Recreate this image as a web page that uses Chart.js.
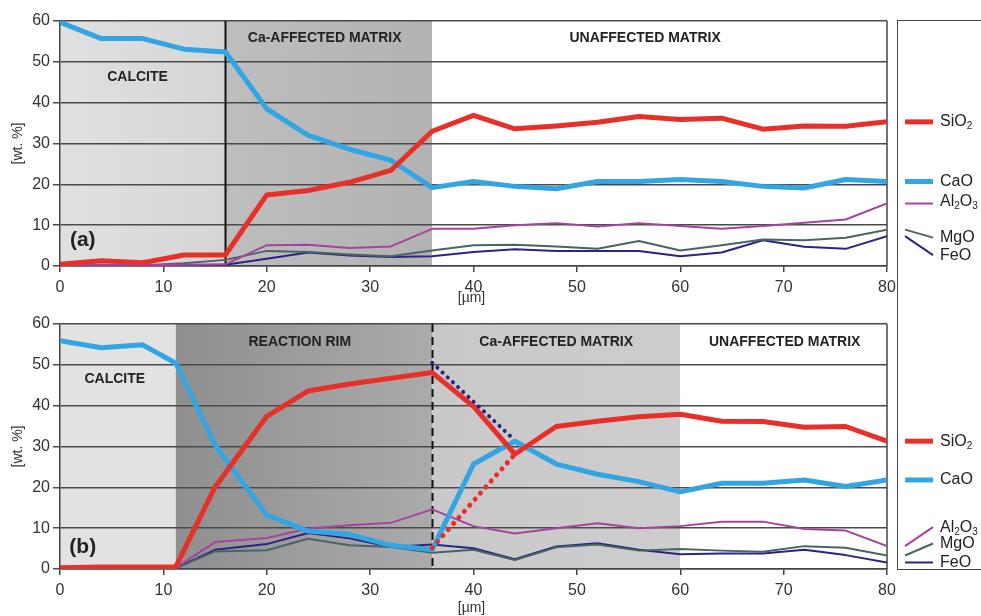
<!DOCTYPE html>
<html>
<head>
<meta charset="utf-8">
<script src="https://cdn.jsdelivr.net/npm/chart.js@4/dist/chart.umd.min.js"></script>
<style>
  html, body { margin: 0; padding: 0; background: #fff; }
  #fig { position: relative; width: 981px; height: 616px; overflow: hidden; background: #fff; }
  #fig canvas { position: absolute; left: 0; }
  #cTop { top: 0; }
  #cBot { top: 305px; }
  #keyBox { position: absolute; left: 897px; top: 20px; width: 120px; height: 550px;
            border: 1.5px solid #444; box-sizing: border-box; }
</style>
</head>
<body>
<div id="fig">
  <div id="keyBox"></div>
  <canvas id="cTop" width="981" height="305"></canvas>
  <canvas id="cBot" width="981" height="311"></canvas>
</div>
<script>
// ---- Profile (a): distance from calcite [µm] and oxide contents [wt. %]
const depthA   = [0, 4, 8, 12, 16, 20, 24, 28, 32, 36, 40, 44, 48, 52, 56, 60, 64, 68, 72, 76, 80];
const sio2A    = [0.4, 1.3, 0.8, 2.7, 2.7, 17.4, 18.5, 20.5, 23.4, 33.0, 36.9, 33.6, 34.3, 35.2, 36.6, 35.9, 36.2, 33.5, 34.3, 34.2, 35.3];
const caoA     = [59.7, 55.7, 55.7, 53.1, 52.4, 38.5, 32.0, 28.6, 25.9, 19.2, 20.7, 19.5, 18.9, 20.7, 20.7, 21.2, 20.7, 19.5, 19.1, 21.2, 20.7];
const al2o3A   = [0.2, 0.2, 0.2, 0.3, 0.4, 5.1, 5.2, 4.4, 4.8, 9.1, 9.1, 10.0, 10.5, 9.7, 10.5, 9.8, 9.1, 9.8, 10.6, 11.4, 15.3];
const mgoA     = [0.2, 0.3, 0.2, 0.7, 1.5, 3.7, 3.4, 2.8, 2.4, 3.8, 5.1, 5.2, 4.8, 4.2, 6.1, 3.8, 5.1, 6.5, 6.3, 6.9, 8.9];
const feoA     = [0.1, 0.1, 0.1, 0.2, 0.3, 1.8, 3.3, 2.6, 2.2, 2.4, 3.4, 4.1, 3.7, 3.7, 3.7, 2.4, 3.3, 6.3, 4.7, 4.2, 7.3];

// ---- Profile (b)
const depthB   = [0, 4, 8, 11.2, 15, 20, 24, 28, 32, 36, 40, 44, 48, 52, 56, 60, 64, 68, 72, 76, 80];
const sio2B    = [0.3, 0.5, 0.5, 0.5, 20.1, 37.4, 43.6, 45.3, 46.7, 48.1, 39.8, 28.1, 34.9, 36.2, 37.3, 37.9, 36.2, 36.1, 34.7, 34.9, 31.3];
const caoB     = [55.9, 54.2, 54.9, 50.4, 30.3, 13.2, 9.3, 8.5, 5.8, 4.7, 25.7, 31.3, 25.7, 23.2, 21.4, 18.9, 21.0, 21.0, 21.8, 20.2, 21.8];
const al2o3B   = [0.2, 0.2, 0.3, 0.3, 6.6, 7.6, 9.9, 10.7, 11.3, 14.6, 10.5, 8.7, 10.0, 11.2, 10.0, 10.5, 11.6, 11.6, 9.8, 9.4, 5.6];
const mgoB     = [0.1, 0.2, 0.2, 0.2, 4.3, 4.6, 7.4, 5.8, 5.4, 4.0, 4.7, 2.2, 5.3, 6.0, 4.5, 4.9, 4.5, 4.2, 5.6, 5.2, 3.3];
const feoB     = [0.1, 0.2, 0.2, 0.2, 4.7, 6.1, 8.8, 7.5, 5.4, 6.0, 5.1, 2.4, 5.5, 6.3, 4.7, 3.6, 3.8, 3.8, 4.7, 3.4, 1.6];

// dotted guide lines across the rim / matrix contact in (b)
const guideDepth  = [36, 44];
const guideSiO2   = [5.2, 28.1];
const guideUpper  = [50.5, 31.5];

// zone boundaries [µm] and names
const zoneEdgesA = [0, 16, 36, 80];
const zoneNamesA = ['CALCITE', 'Ca-AFFECTED MATRIX', 'UNAFFECTED MATRIX'];
const zoneEdgesB = [0, 11.2, 36, 60, 80];
const zoneNamesB = ['CALCITE', 'REACTION RIM', 'Ca-AFFECTED MATRIX', 'UNAFFECTED MATRIX'];

const oxideNames = ['SiO₂', 'CaO', 'Al₂O₃', 'MgO', 'FeO'];
const yTicks = [0, 10, 20, 30, 40, 50, 60];
const xTicks = [0, 10, 20, 30, 40, 50, 60, 70, 80];

const FONT = '"Liberation Sans", Arial, Helvetica, sans-serif';
const COL = {
  sio2: '#e8302a', cao: '#33a5e3', al2o3: '#a5449d', mgo: '#4a6464', feo: '#2c2483'
};

const pts = (xs, ys) => xs.map((x, i) => ({ x, y: ys[i] }));

function line(label, xs, ys, color, width, dash) {
  return {
    label, data: pts(xs, ys), borderColor: color, backgroundColor: color,
    borderWidth: width, pointRadius: 0, tension: 0, fill: false,
    borderCapStyle: dash ? 'round' : 'butt', borderJoinStyle: 'round',
    borderDash: dash || []
  };
}

// text with subscript digits drawn smaller and lowered
const SUB = '₀₁₂₃₄₅₆₇₈₉';
function drawFormula(ctx, text, x, y, size) {
  let cx = x;
  for (const ch of text) {
    const si = SUB.indexOf(ch);
    if (si >= 0) {
      ctx.font = `${Math.round(size * 0.62)}px ${FONT}`;
      ctx.fillText(String(si), cx, y + size * 0.3);
      cx += ctx.measureText(String(si)).width;
    } else {
      ctx.font = `${size}px ${FONT}`;
      ctx.fillText(ch, cx, y);
      cx += ctx.measureText(ch).width;
    }
  }
}

function decor(cfg) {
  return {
    id: 'panelDecor',
    beforeDraw(chart) {
      const { ctx, chartArea: a, scales: { x } } = chart;
      ctx.save();
      for (let i = 0; i < cfg.edges.length - 1; i++) {
        const x0 = x.getPixelForValue(cfg.edges[i]);
        const x1 = x.getPixelForValue(cfg.edges[i + 1]);
        const c = cfg.fills[i];
        let fill = c;
        if (Array.isArray(c)) {
          fill = ctx.createLinearGradient(x0, 0, x1, 0);
          fill.addColorStop(0, c[0]);
          fill.addColorStop(1, c[1]);
        }
        ctx.fillStyle = fill;
        ctx.fillRect(x0, a.top, x1 - x0, a.bottom - a.top);
      }
      ctx.restore();
    },
    beforeDatasetsDraw(chart) {
      const { ctx, chartArea: a, scales: { x, y } } = chart;
      ctx.save();
      // frame on the right
      ctx.strokeStyle = '#444';
      ctx.lineWidth = 1.5;
      ctx.beginPath();
      ctx.moveTo(a.right, a.top); ctx.lineTo(a.right, a.bottom);
      ctx.stroke();
      // contact line
      const bx = Math.round(x.getPixelForValue(cfg.contact.at)) + 0.5;
      ctx.strokeStyle = '#111';
      ctx.lineWidth = 2;
      ctx.setLineDash(cfg.contact.dash);
      ctx.beginPath();
      ctx.moveTo(bx, a.top); ctx.lineTo(bx, a.bottom);
      ctx.stroke();
      ctx.setLineDash([]);
      // zone names
      ctx.fillStyle = '#222';
      ctx.textAlign = 'center';
      ctx.textBaseline = 'middle';
      ctx.font = `bold 14px ${FONT}`;
      cfg.names.forEach((n, i) => {
        const p = cfg.namePos[i];
        ctx.fillText(n, x.getPixelForValue(p[0]), y.getPixelForValue(p[1]));
      });
      // panel tag
      ctx.font = `bold 21px ${FONT}`;
      ctx.fillText(cfg.tag, x.getPixelForValue(cfg.tagPos[0]), y.getPixelForValue(cfg.tagPos[1]));
      ctx.restore();
    },
    afterDraw(chart) {
      const { ctx, scales: { x, y } } = chart;
      const dsets = chart.data.datasets;
      ctx.save();
      // axis title under the 40 µm tick
      ctx.fillStyle = '#333';
      ctx.font = `14px ${FONT}`;
      ctx.textAlign = 'center';
      ctx.textBaseline = 'middle';
      ctx.fillText('[µm]', x.getPixelForValue(40) - 2, cfg.xTitleY);
      // end-of-line keys
      ctx.textAlign = 'left';
      ctx.textBaseline = 'middle';
      cfg.keys.forEach(k => {
        const ds = dsets[k.ds];
        const last = ds.data[ds.data.length - 1].y;
        const y0 = y.getPixelForValue(last);
        const y1 = y0 + k.dy;
        ctx.strokeStyle = ds.borderColor;
        ctx.lineWidth = ds.borderWidth;
        ctx.lineCap = 'butt';
        ctx.beginPath();
        ctx.moveTo(905, y0);
        ctx.lineTo(933, y1);
        ctx.stroke();
        ctx.fillStyle = '#222';
        drawFormula(ctx, ds.label, 940, y1 + (k.ty || 0), 16);
      });
      ctx.restore();
    }
  };
}

function makeChart(id, datasets, cfg) {
  const h = document.getElementById(id).height;
  return new Chart(document.getElementById(id), {
    type: 'line',
    data: { datasets },
    plugins: [decor(cfg)],
    options: {
      responsive: false,
      animation: false,
      devicePixelRatio: 1,
      events: [],
      layout: { padding: { left: 0, right: 94, top: cfg.plotTop, bottom: 0 } },
      plugins: { legend: { display: false }, tooltip: { enabled: false } },
      scales: {
        x: {
          type: 'linear', min: 0, max: 80,
          afterBuildTicks: s => { s.ticks = xTicks.map(v => ({ value: v })); },
          afterFit: s => { s.height = h - cfg.plotBottom; },
          ticks: { color: '#333', font: { family: FONT, size: 16 }, padding: 6, maxRotation: 0 },
          grid: { drawOnChartArea: false, drawTicks: true, tickLength: 6, color: '#444', lineWidth: 1.5 },
          border: { display: true, color: '#444', width: 1.5 }
        },
        y: {
          min: 0, max: 60,
          afterBuildTicks: s => { s.ticks = yTicks.map(v => ({ value: v })); },
          afterFit: s => { s.width = 60; },
          ticks: { color: '#333', font: { family: FONT, size: 16 }, padding: 3 },
          grid: { color: '#4a4a4a', lineWidth: 1.5, tickLength: 7 },
          border: { display: true, color: '#444', width: 1.5 },
          title: { display: true, text: '[wt. %]', color: '#333',
                   font: { family: FONT, size: 14 }, padding: { top: 10, bottom: 0 } }
        }
      }
    }
  });
}

// panel (a)
makeChart('cTop', [
  line(oxideNames[0], depthA, sio2A, COL.sio2, 5),
  line(oxideNames[1], depthA, caoA, COL.cao, 5),
  line(oxideNames[2], depthA, al2o3A, COL.al2o3, 2),
  line(oxideNames[3], depthA, mgoA, COL.mgo, 2),
  line(oxideNames[4], depthA, feoA, COL.feo, 2)
], {
  plotTop: 21, plotBottom: 266, xTitleY: 298,
  edges: zoneEdgesA,
  fills: [['#e0e0e0', '#d6d6d6'], ['#bebebe', '#b2b2b2'], '#ffffff'],
  names: zoneNamesA,
  namePos: [[7.5, 46.3], [25.6, 55.8], [56.6, 55.8]],
  tag: '(a)', tagPos: [2.2, 6.2],
  contact: { at: 16, dash: [] },
  keys: [{ ds: 0, dy: 0 }, { ds: 1, dy: 0 }, { ds: 2, dy: 0, ty: -2 },
         { ds: 3, dy: 8 }, { ds: 4, dy: 19 }]
});

// panel (b)
makeChart('cBot', [
  line('', guideDepth, guideUpper, COL.feo, 4, [0.1, 7]),
  line('', guideDepth, guideSiO2, COL.sio2, 5, [0.1, 8]),
  line(oxideNames[0], depthB, sio2B, COL.sio2, 5),
  line(oxideNames[1], depthB, caoB, COL.cao, 5),
  line(oxideNames[2], depthB, al2o3B, COL.al2o3, 2),
  line(oxideNames[3], depthB, mgoB, COL.mgo, 2),
  line(oxideNames[4], depthB, feoB, COL.feo, 2)
], {
  plotTop: 19, plotBottom: 264, xTitleY: 303,
  edges: zoneEdgesB,
  fills: ['#e2e2e2', ['#8f8f8f', '#ababab'], ['#c9c9c9', '#cdcdcd'], '#ffffff'],
  names: zoneNamesB,
  namePos: [[5.3, 46.5], [23.2, 55.6], [48.0, 55.6], [70.1, 55.5]],
  tag: '(b)', tagPos: [2.2, 5.3],
  contact: { at: 36, dash: [8, 5] },
  keys: [{ ds: 2, dy: 0 }, { ds: 3, dy: 0 }, { ds: 4, dy: -19 },
         { ds: 5, dy: -12 }, { ds: 6, dy: 0 }]
});
</script>
</body>
</html>
